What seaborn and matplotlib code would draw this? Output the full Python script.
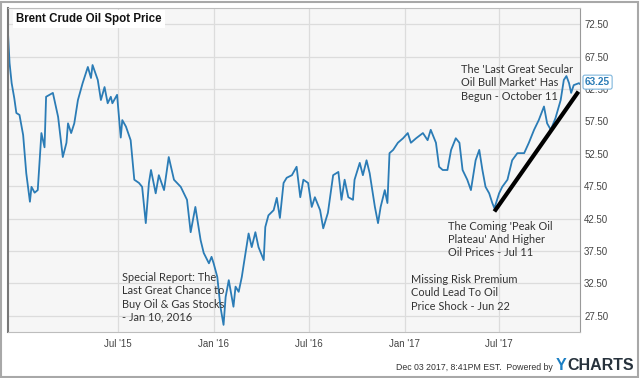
import matplotlib
matplotlib.use("Agg")
import matplotlib.pyplot as plt
from matplotlib.patches import Rectangle
import seaborn as sns
import pandas as pd

# ---------------- data ----------------
dates = [
    "2014-12-03", "2014-12-06", "2014-12-10", "2014-12-15", "2014-12-19", "2014-12-25",
    "2015-01-01", "2015-01-07", "2015-01-14", "2015-01-17", "2015-01-23", "2015-01-29",
    "2015-02-05", "2015-02-11", "2015-02-14", "2015-02-27", "2015-03-09", "2015-03-18",
    "2015-03-25", "2015-03-28", "2015-04-03", "2015-04-09", "2015-04-16", "2015-04-25",
    "2015-05-05", "2015-05-11", "2015-05-14", "2015-05-24", "2015-05-30", "2015-06-06",
    "2015-06-12", "2015-06-18", "2015-06-21", "2015-06-30", "2015-07-07", "2015-07-10",
    "2015-07-17", "2015-07-26", "2015-08-02", "2015-08-11", "2015-08-17", "2015-08-24",
    "2015-08-30", "2015-09-03", "2015-09-12", "2015-09-18", "2015-09-28", "2015-10-07",
    "2015-10-17", "2015-10-30", "2015-11-11", "2015-11-18", "2015-11-27", "2015-12-07",
    "2015-12-13", "2015-12-23", "2015-12-28", "2016-01-01", "2016-01-08", "2016-01-14",
    "2016-01-20", "2016-01-24", "2016-01-30", "2016-02-08", "2016-02-12", "2016-02-18",
    "2016-02-24", "2016-02-28", "2016-03-08", "2016-03-14", "2016-03-21", "2016-03-27",
    "2016-04-06", "2016-04-09", "2016-04-15", "2016-04-25", "2016-05-01", "2016-05-07",
    "2016-05-14", "2016-05-20", "2016-05-30", "2016-06-08", "2016-06-15", "2016-06-21",
    "2016-06-30", "2016-07-07", "2016-07-13", "2016-07-23", "2016-07-29", "2016-08-07",
    "2016-08-17", "2016-08-27", "2016-09-02", "2016-09-08", "2016-09-15", "2016-09-24",
    "2016-09-27", "2016-10-07", "2016-10-13", "2016-10-20", "2016-10-26", "2016-11-05",
    "2016-11-11", "2016-11-16", "2016-11-24", "2016-11-29", "2016-12-03", "2016-12-10",
    "2016-12-19", "2016-12-29", "2017-01-07", "2017-01-13", "2017-01-23", "2017-02-05",
    "2017-02-14", "2017-02-20", "2017-03-02", "2017-03-08", "2017-03-15", "2017-03-24",
    "2017-03-31", "2017-04-09", "2017-04-16", "2017-04-22", "2017-05-01", "2017-05-08",
    "2017-05-17", "2017-05-24", "2017-05-30", "2017-06-05", "2017-06-12", "2017-06-18",
    "2017-06-22", "2017-07-01", "2017-07-07", "2017-07-17", "2017-07-26", "2017-08-05",
    "2017-08-18", "2017-08-27", "2017-09-06", "2017-09-15", "2017-09-25", "2017-10-01",
    "2017-10-08", "2017-10-17", "2017-10-27", "2017-11-02", "2017-11-07", "2017-11-12",
    "2017-11-16", "2017-11-21", "2017-12-01", "2017-12-03",
]
prices = [
    71.1, 66.5, 63.4, 61.1, 58.8, 58.5,
    55.4, 49.5, 45.1, 47.4, 46.5, 46.9,
    55.7, 53.5, 61.3, 61.9, 58.2, 52.0,
    54.2, 57.2, 55.7, 57.2, 60.8, 63.4,
    65.9, 64.2, 66.2, 63.9, 60.8, 62.8,
    60.3, 61.3, 60.3, 61.6, 55.0, 57.7,
    56.7, 54.6, 48.5, 48.0, 47.4, 41.8,
    48.0, 50.0, 46.4, 49.2, 46.9, 52.0,
    48.5, 47.4, 45.4, 40.4, 44.3, 39.2,
    37.2, 35.6, 36.6, 35.6, 33.5, 28.9,
    26.1, 30.4, 33.0, 28.9, 32.0, 31.2,
    33.5, 35.6, 40.2, 38.1, 40.4, 38.1,
    36.1, 41.2, 43.0, 43.8, 45.7, 42.6,
    48.0, 48.8, 49.2, 50.5, 45.8, 48.5,
    48.0, 44.3, 45.8, 43.8, 41.0, 43.4,
    49.2, 49.7, 45.4, 48.5, 45.8, 45.4,
    48.5, 51.1, 49.2, 51.5, 49.5, 44.3,
    41.8, 44.3, 46.9, 44.9, 52.6, 53.1,
    54.2, 54.9, 55.7, 54.2, 54.9, 55.7,
    54.6, 56.2, 54.2, 50.5, 50.0, 50.0,
    53.1, 54.9, 54.2, 50.0, 48.5, 46.9,
    51.5, 53.1, 50.0, 47.4, 46.4, 44.9,
    44.1, 46.4, 47.4, 48.5, 51.5, 52.6,
    52.6, 54.2, 56.2, 57.7, 59.8, 57.2,
    56.2, 58.0, 60.8, 63.9, 64.5, 63.4,
    61.9, 63.1, 63.4, 63.25,
]
trend_dates = ["2017-06-22", "2017-11-30"]
trend_values = [43.6, 62.1]
last_value = 63.25

y_ticks = [27.5, 32.5, 37.5, 42.5, 47.5, 52.5, 57.5, 62.5, 67.5, 72.5]
x_tick_dates = ["2015-07-01", "2016-01-01", "2016-07-01", "2017-01-01", "2017-07-01"]
x_tick_labels = ["Jul '15", "Jan '16", "Jul '16", "Jan '17", "Jul '17"]

title = "Brent Crude Oil Spot Price"
notes = [
    "Special Report: The\nLast Great Chance to\nBuy Oil & Gas Stocks\n- Jan 10, 2016",
    "Missing Risk Premium\nCould Lead To Oil\nPrice Shock - Jun 22",
    "The Coming 'Peak Oil\nPlateau' And Higher\nOil Prices - Jul 11",
    "The 'Last Great Secular\nOil Bull Market' Has\nBegun - October 11",
]
footer = "Dec 03 2017, 8:41PM EST.  Powered by"

# ---------------- figure ----------------
sns.set_theme(style="whitegrid")
plt.rcParams["font.family"] = ["Liberation Sans", "DejaVu Sans"]

W, H = 640, 378
fig = plt.figure(figsize=(W / 100, H / 100), dpi=100)
fig.patch.set_facecolor("white")

L, R, T, B = 8, 580, 8, 332
ax = fig.add_axes([L / W, 1 - B / H, (R - L) / W, (B - T) / H])
ax.set_facecolor("#f6f6f6")

df = pd.DataFrame({"date": pd.to_datetime(dates), "price": prices})
sns.lineplot(data=df, x="date", y="price", ax=ax, color="#2b7cb6", linewidth=1.3)
ax.plot(pd.to_datetime(trend_dates), trend_values, color="black", linewidth=3,
        solid_capstyle="butt")

ax.set_xlim(pd.Timestamp("2014-12-03"), pd.Timestamp("2017-12-03"))
ax.set_ylim(25, 75)
ax.set_xlabel("")
ax.set_ylabel("")

ax.set_yticks(y_ticks)
ax.set_yticklabels([f"{v:.2f}" for v in y_ticks])
ax.yaxis.tick_right()
ax.set_xticks(pd.to_datetime(x_tick_dates))
ax.set_xticklabels(x_tick_labels)
ax.tick_params(axis="both", labelsize=7, colors="#444444", length=0)
ax.tick_params(axis="y", pad=3)
ax.tick_params(axis="x", pad=5)

ax.grid(True, color="#dcdcdc", linewidth=0.9)
for side, sp in ax.spines.items():
    sp.set_visible(True)
    sp.set_linewidth(0.8)
    sp.set_color("#bdbdbd")
ax.spines["left"].set_color("#777777")
ax.spines["left"].set_linewidth(1.5)
ax.spines["right"].set_color("#9a9a9a")

# title with white background box
ax.text(8 / (R - L), 1 - 11 / (B - T), title, transform=ax.transAxes,
        fontsize=8.3, fontweight="bold", color="#111111", va="center", ha="left",
        bbox=dict(boxstyle="square,pad=0.3", fc="white", ec="none"))

def axfrac(px, py):
    return ((px - L) / (R - L), (B - py) / (B - T))

note_pos = [(122, 272), (411, 274), (448, 221), (461, 64)]
for txt, (px, py) in zip(notes, note_pos):
    x, y = axfrac(px, py)
    ax.text(x, y, txt, transform=ax.transAxes, fontsize=7.9, color="#333333",
            ha="left", va="top", linespacing=1.25, family=["Lato", "DejaVu Sans"])

# last value label (figure-level so it covers the 62.50 tick label, as in the reference)
label_y = (B - (last_value - 25) / 50 * (B - T)) - 2
fig.text(585 / W, 1 - label_y / H, f"{last_value:.2f}", ha="left", va="center",
         fontsize=7.2, fontweight="bold", color="#2b7cb6", zorder=10,
         bbox=dict(boxstyle="round,pad=0.2", fc="white", ec="#7fb6dc", lw=0.8))

# footer
fig.text(553 / W, 1 - 367 / H, footer, fontsize=6.3, color="#333333",
         ha="right", va="center")
fig.text(556 / W, 1 - 365 / H, "Y", fontsize=11.5, fontweight="bold", color="#1b7fc4",
         ha="left", va="center")
fig.text(567 / W, 1 - 365 / H, "CHARTS", fontsize=11.5, fontweight="bold",
         color="#27323c", ha="left", va="center")

# outer frame
fig.patches.append(Rectangle((1 / W, 1 / H), (W - 3) / W, (H - 3) / H,
                             transform=fig.transFigure, fill=False,
                             ec="#a8a8a8", lw=1.5))

fig.savefig("out.png", dpi=100)
